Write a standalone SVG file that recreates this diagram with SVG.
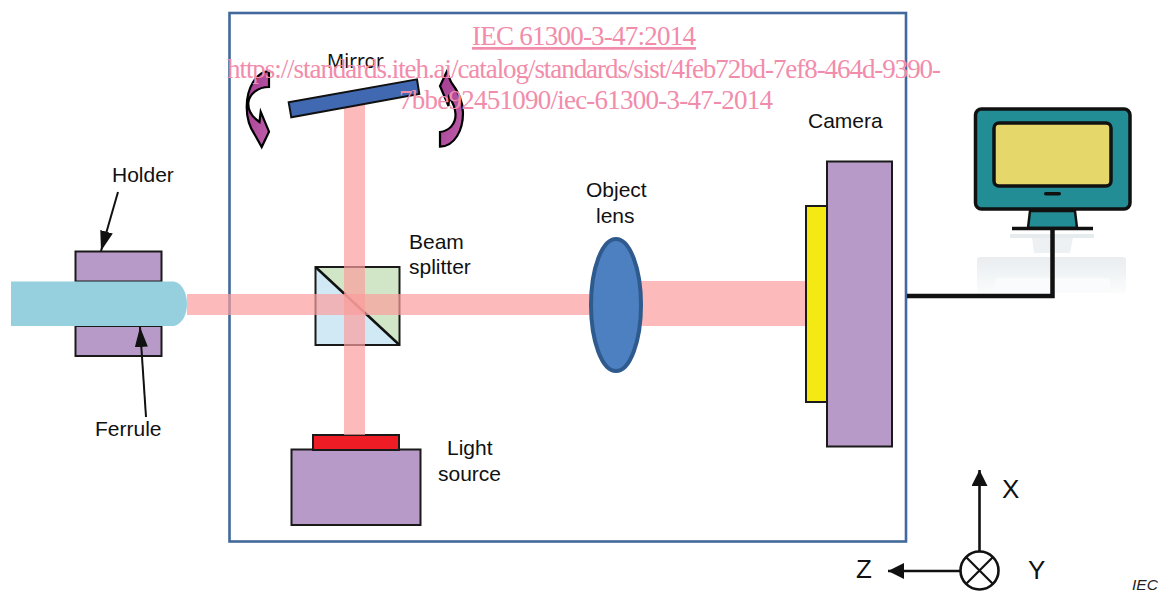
<svg xmlns="http://www.w3.org/2000/svg" width="1161" height="592" viewBox="0 0 1161 592">
<style>
.k{fill:#b79ac8;stroke:#1a1a1a;stroke-width:2}
.l{font-family:"Liberation Sans",Arial,sans-serif;font-size:21px;fill:#111}
.ax{font-family:"Liberation Sans",Arial,sans-serif;font-size:26px;fill:#111}
.w{font-family:"Liberation Serif","Times New Roman",serif;font-size:27px;fill:#f28cab}
.beam{fill:#fb9c9c;opacity:.7}
.c{fill:none;stroke:#111;stroke-linecap:butt}
.rot{fill:url(#rg);stroke:#000;stroke-width:2.200;stroke-linejoin:miter}
</style>
<defs>
<linearGradient id="rg" x1="0" y1="0" x2="1" y2="1"><stop offset="0" stop-color="#a23c92"/><stop offset="1" stop-color="#bf5fa9"/></linearGradient>
<linearGradient id="rf" x1="0" y1="0" x2="0" y2="1"><stop offset="0" stop-color="#e9edf0"/><stop offset="1" stop-color="#fbfcfc"/></linearGradient>
<marker id="ah" markerUnits="userSpaceOnUse" markerWidth="18" markerHeight="18" refX="16" refY="8" orient="auto"><path d="M0,0L16,8L0,16Z" fill="#111"/></marker>
<marker id="ac" markerUnits="userSpaceOnUse" markerWidth="22" markerHeight="14" refX="20" refY="6.500" orient="auto"><path d="M0,0L20,6.500L0,13Z" fill="#111"/></marker>
</defs>
<g id="frame"><rect x="229.500" y="13" width="676.500" height="528.500" fill="#fff" stroke="#41699b" stroke-width="2.600"/></g>
<g id="computer">
<rect x="1010" y="234" width="84" height="4" fill="#e6ebee"/>
<path d="M1032,238H1073L1070,253H1034Z" fill="#eef1f3"/>
<rect x="977" y="257" width="149" height="36" rx="3" fill="url(#rf)"/>
<rect x="995" y="278" width="115" height="15" rx="3" fill="#fafbfc"/>
<path d="M1030,211H1075L1077,228H1028Z" fill="#238d95" stroke="#111" stroke-width="2.500"/>
<rect x="975.500" y="109" width="154.500" height="100" rx="6" fill="#238d95" stroke="#111" stroke-width="3.500"/>
<rect x="994" y="123" width="117" height="63" rx="5" fill="#e6d76b" stroke="#111" stroke-width="3.500"/>
<rect x="1044" y="192" width="17" height="3.500" rx="1.700" fill="#111"/>
<path d="M1012,228.500H1093" class="c" stroke-width="3.500" stroke-linecap="round"/>
</g>
<g id="light-source">
<rect x="291.500" y="449.500" width="129" height="75.500" class="k"/>
<rect x="313" y="435" width="86" height="15" fill="#ee1c25" stroke="#1a1a1a" stroke-width="2"/>
<text x="447" y="455" class="l">Light</text><text x="438" y="481" class="l">source</text>
</g>
<g id="beam-splitter">
<rect x="315.500" y="267" width="84" height="78" fill="#d0e9f4"/>
<path d="M315.500,267H399.500V345Z" fill="#d0e6c6"/>
<rect x="315.500" y="267" width="84" height="78" fill="none" stroke="#1a1a1a" stroke-width="2"/>
<path d="M315.500,267L399.500,345" class="c" stroke-width="2.500"/>
<text x="409" y="249" class="l">Beam</text><text x="409" y="274" class="l">splitter</text>
</g>
<g id="beams">
<rect x="344" y="104" width="21" height="331" class="beam"/>
<rect x="187" y="294" width="404" height="21" class="beam"/>
<rect x="640" y="281" width="167" height="45" class="beam"/>
</g>
<g id="holder">
<rect x="75.500" y="251.500" width="86" height="30" class="k"/>
<rect x="75.500" y="326" width="86" height="30" class="k"/>
<text x="112" y="182" class="l">Holder</text>
</g>
<g id="ferrule">
<path d="M11,281.500H174C182,283 187,293 187,304C187,315 182,324 174,326H11Z" fill="#96d0df"/>
<text x="95" y="436" class="l">Ferrule</text>
</g>
<g id="mirror">
<path d="M288.700,102.300L417,79.300L419.300,94L291.300,117.300Z" fill="#4169b2" stroke="#111" stroke-width="2"/>
<path class="rot" d="M269,71C256,72 246.700,88 246.700,107C246.700,119 250,128 255,135L261.700,147L269,131.700L260.700,111.700L259.500,122C252,117 248,110 248.300,103C249,94 258,87 269,87Z"/>
<path class="rot" d="M440,146.700C455,146 463,130 463,113C463,101 458,91 451,82L446.700,71.700L440,86L448.500,106L449,97C452,101 455,107 455.500,114C456,124 449,131 440,132Z"/>
<text x="327" y="68" font-family="'Noto Sans',sans-serif" font-size="19" fill="#111">Mirror</text>
</g>
<g id="lens">
<ellipse cx="616" cy="305" rx="25" ry="66" fill="#4d80c0" stroke="#2f5a8e" stroke-width="4"/>
<text x="586" y="197" class="l">Object</text><text x="596" y="223" class="l">lens</text>
</g>
<g id="camera">
<rect x="806" y="206" width="21" height="196" fill="#f5e914" stroke="#1a1a1a" stroke-width="2"/>
<rect x="827" y="161.500" width="65" height="285" class="k"/>
<text x="808" y="128" class="l">Camera</text>
</g>
<g id="connectors">
<path d="M907,296H1052.500V230" class="c" stroke-width="4.500"/>
<path d="M118,192L101,251" class="c" stroke-width="2" marker-end="url(#ac)"/>
<path d="M146,417L140,327" class="c" stroke-width="2" marker-end="url(#ac)"/>
<path d="M979.500,551V470" class="c" stroke-width="2.600" marker-end="url(#ah)"/>
<path d="M960,571H888" class="c" stroke-width="2.600" marker-end="url(#ah)"/>
</g>
<g id="axes">
<circle cx="979.500" cy="570.500" r="19" fill="#fff" stroke="#111" stroke-width="2.600"/>
<path d="M966,557L993,584M993,557L966,584" class="c" stroke-width="2.200"/>
<text x="1002" y="498" class="ax">X</text>
<text x="856" y="578" class="ax">Z</text>
<text x="1028" y="579" class="ax">Y</text>
</g>
<text x="1132" y="590" font-family="'Liberation Sans',Arial,sans-serif" font-size="15.500" font-style="italic" fill="#222">IEC</text>
<g id="watermark">
<text x="472" y="45" class="w" text-decoration="underline" textLength="224">IEC 61300-3-47:2014</text>
<text x="227" y="78" class="w" textLength="714">https://standards.iteh.ai/catalog/standards/sist/4feb72bd-7ef8-464d-9390-</text>
<text x="399" y="109" class="w" textLength="374">7bbe92451090/iec-61300-3-47-2014</text>
</g>
</svg>
